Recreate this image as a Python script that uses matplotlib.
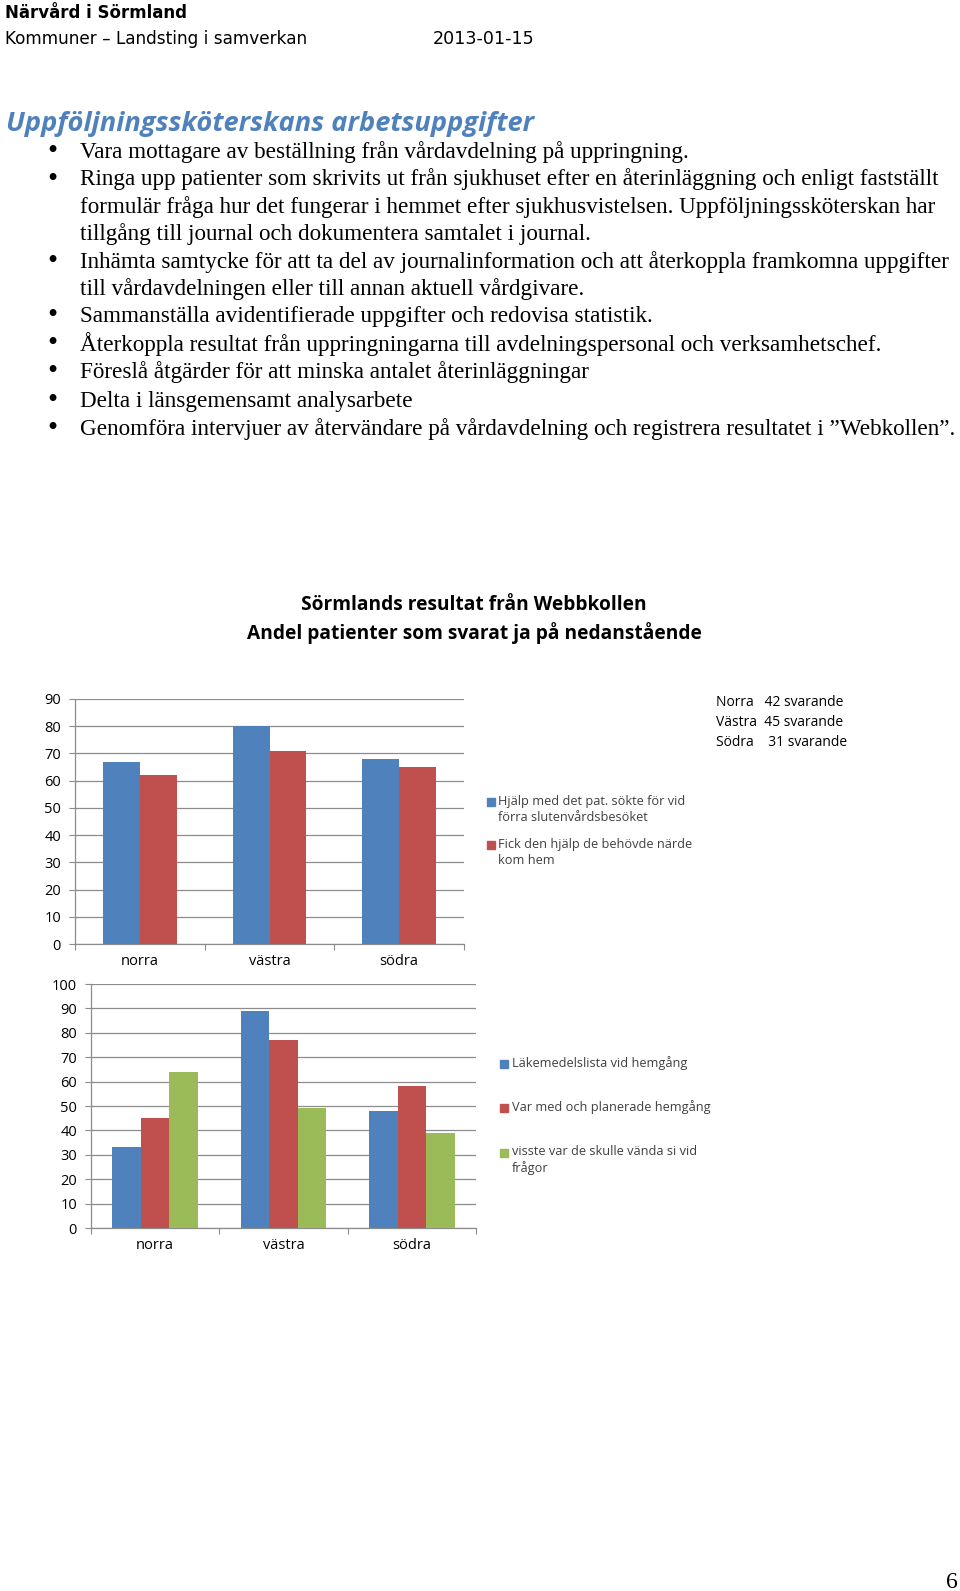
import matplotlib
matplotlib.use("Agg")
import matplotlib.pyplot as plt
import numpy as np

W, H = 960, 1591

# ---------------- data ----------------
regions = ["norra", "västra", "södra"]
chart1_series = ["Hjälp med det pat. sökte för vid\nförra slutenvårdsbesöket",
                 "Fick den hjälp de behövde närde\nkom hem"]
chart1_values = [[67, 80, 68], [62, 71, 65]]
chart1_yticks = [0, 10, 20, 30, 40, 50, 60, 70, 80, 90]

chart2_series = ["Läkemedelslista vid hemgång",
                 "Var med och planerade hemgång",
                 "visste var de skulle vända si vid\nfrågor"]
chart2_values = [[33, 89, 48], [45, 77, 58], [64, 49, 39]]
chart2_yticks = [0, 10, 20, 30, 40, 50, 60, 70, 80, 90, 100]

respondents = ["Norra   42 svarande", "Västra  45 svarande", "Södra    31 svarande"]

bullets = [
    ("•", "Vara mottagare av beställning från vårdavdelning på uppringning."),
    ("•", "Ringa upp patienter som skrivits ut från sjukhuset efter en återinläggning och enligt fastställt"),
    ("", "formulär fråga hur det fungerar i hemmet efter sjukhusvistelsen. Uppföljningssköterskan har"),
    ("", "tillgång till journal och dokumentera samtalet i journal."),
    ("•", "Inhämta samtycke för att ta del av journalinformation och att återkoppla framkomna uppgifter"),
    ("", "till vårdavdelningen eller till annan aktuell vårdgivare."),
    ("•", "Sammanställa avidentifierade uppgifter och redovisa statistik."),
    ("•", "Återkoppla resultat från uppringningarna till avdelningspersonal och verksamhetschef."),
    ("•", "Föreslå åtgärder för att minska antalet återinläggningar"),
    ("•", "Delta i länsgemensamt analysarbete"),
    ("•", "Genomföra intervjuer av återvändare på vårdavdelning och registrera resultatet i ”Webkollen”."),
]
bullet_y = [152, 179.5, 207, 234, 262, 289, 316.5, 344, 372.5, 401, 429]

colors = ["#4F81BD", "#C0504D", "#9BBB59"]

fig = plt.figure(figsize=(W / 100, H / 100), dpi=100)


def fx(x):
    return x / W


def fy(y):
    return 1 - y / H


def txt(x, y, s, **kw):
    fig.text(fx(x), fy(y), s, **kw)


# ---------------- header ----------------
txt(5, 13, "Närvård i Sörmland", fontsize=12, fontweight="bold", family="DejaVu Sans", va="center")
txt(5, 39, "Kommuner – Landsting i samverkan", fontsize=12.2, family="DejaVu Sans", va="center")
txt(433, 39, "2013-01-15", fontsize=12.6, family="DejaVu Sans", va="center")

txt(6, 124, "Uppföljningssköterskans arbetsuppgifter", fontsize=19.6, fontweight="bold",
    style="italic", family="Open Sans", color="#4F81BD", va="center")

for i, ((b, line), y) in enumerate(zip(bullets, bullet_y)):
    if b:
        txt(47, y, b, fontsize=21, family="Liberation Serif", va="center")
    txt(80, y, line, fontsize=16.7, family="Liberation Serif", va="center")

# ---------------- chart titles ----------------
txt(474, 605, "Sörmlands resultat från Webbkollen", fontsize=13.8, fontweight="bold",
    family="Open Sans", ha="center", va="center")
txt(474, 633, "Andel patienter som svarat ja på nedanstående", fontsize=13.8, fontweight="bold",
    family="Open Sans", ha="center", va="center")

LBL_FONT = "Open Sans"


def style_axes(ax, yticks):
    ax.set_ylim(yticks[0], yticks[-1])
    ax.set_yticks(yticks)
    ax.set_xlim(0, len(regions))
    ax.yaxis.grid(True, color="#8c8c8c", linewidth=0.9)
    ax.set_axisbelow(True)
    for s in ["top", "right"]:
        ax.spines[s].set_visible(False)
    for s in ["left", "bottom"]:
        ax.spines[s].set_color("#8c8c8c")
        ax.spines[s].set_linewidth(0.9)
    ax.set_xticks(np.arange(len(regions) + 1), minor=False)
    ax.set_xticklabels([])
    ax.set_xticks(np.arange(len(regions)) + 0.5, minor=True)
    ax.set_xticklabels(regions, minor=True, fontsize=10.5, family=LBL_FONT)
    ax.tick_params(axis="x", which="major", length=4, color="#8c8c8c", direction="out")
    ax.tick_params(axis="x", which="minor", length=0, pad=7)
    ax.tick_params(axis="y", length=4, color="#8c8c8c", labelsize=10.5, pad=6)
    for lab in ax.get_yticklabels():
        lab.set_family(LBL_FONT)


# ---------------- chart 1 ----------------
ax1 = fig.add_axes([fx(75), fy(944), fx(464) - fx(75), fy(699) - fy(944)])
bw1 = 0.283
x = np.arange(len(regions)) + 0.5
for k, vals in enumerate(chart1_values):
    off = (k - (len(chart1_values) - 1) / 2) * bw1
    ax1.bar(x + off, vals, width=bw1, color=colors[k], zorder=3)
style_axes(ax1, chart1_yticks)

# legend chart 1
leg1_y = [802, 845]
for k, (lab, y) in enumerate(zip(chart1_series, leg1_y)):
    fig.patches.append(plt.Rectangle((fx(487), fy(y + 4)), fx(8), fy(0) - fy(8),
                                     transform=fig.transFigure, color=colors[k]))
    txt(498, y - 7, lab, fontsize=9.2, family=LBL_FONT, va="top", linespacing=1.3, color="#404040")

for i, s in enumerate(respondents):
    txt(716, 703 + 20 * i, s, fontsize=10, family=LBL_FONT, va="center")

# ---------------- chart 2 ----------------
ax2 = fig.add_axes([fx(91), fy(1228), fx(476) - fx(91), fy(984) - fy(1228)])
bw2 = 0.223
for k, vals in enumerate(chart2_values):
    off = (k - (len(chart2_values) - 1) / 2) * bw2
    ax2.bar(x + off, vals, width=bw2, color=colors[k], zorder=3)
style_axes(ax2, chart2_yticks)

leg2_y = [1064, 1108, 1153]
for k, (lab, y) in enumerate(zip(chart2_series, leg2_y)):
    fig.patches.append(plt.Rectangle((fx(500), fy(y + 4)), fx(8), fy(0) - fy(8),
                                     transform=fig.transFigure, color=colors[k]))
    txt(512, y - 8, lab, fontsize=9.2, family=LBL_FONT, va="top", linespacing=1.3, color="#404040")

# page number
txt(958, 1583, "6", fontsize=17, family="Liberation Serif", ha="right", va="center")

fig.savefig("out.png", dpi=100)
